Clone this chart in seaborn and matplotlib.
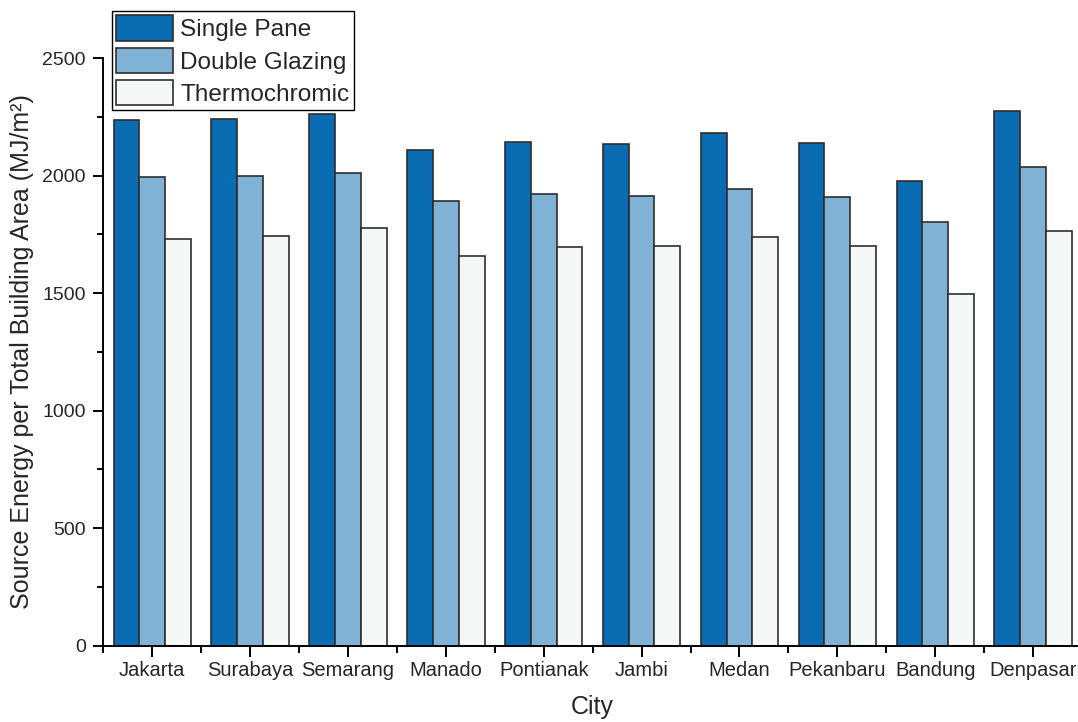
import numpy as np
import pandas as pd
import matplotlib
matplotlib.use("Agg")
import matplotlib.pyplot as plt
from matplotlib.ticker import FixedLocator, MultipleLocator
import seaborn as sns

# Source energy intensity (MJ/m²) by city for three glazing types
cities = ["Jakarta", "Surabaya", "Semarang", "Manado", "Pontianak",
          "Jambi", "Medan", "Pekanbaru", "Bandung", "Denpasar"]
single_pane = [2236, 2241, 2261, 2109, 2144, 2135, 2183, 2139, 1979, 2276]
double_glazing = [1993, 1997, 2013, 1891, 1923, 1915, 1945, 1911, 1803, 2037]
thermochromic = [1730, 1744, 1779, 1658, 1696, 1701, 1740, 1701, 1497, 1763]

glazing_types = ["Single Pane", "Double Glazing", "Thermochromic"]
bar_colors = ["#0A6DB4", "#7FB2D5", "#F3F8F6"]

df = pd.DataFrame({
    "City": cities * 3,
    "Energy": single_pane + double_glazing + thermochromic,
    "Glazing": np.repeat(glazing_types, len(cities)),
})

sns.set_style("ticks")
plt.rcParams["font.family"] = ["Liberation Sans", "DejaVu Sans"]

W, H = 1078, 722
fig = plt.figure(figsize=(W / 100, H / 100), dpi=100)
ax_l, ax_r, ax_t, ax_b = 103.3, 1082.0, 58.3, 645.5
ax = fig.add_axes([ax_l / W, (H - ax_b) / H, (ax_r - ax_l) / W, (ax_b - ax_t) / H])

sns.barplot(data=df, x="City", y="Energy", hue="Glazing",
            hue_order=glazing_types, order=cities,
            palette=bar_colors, width=0.79, edgecolor="#2E2E2E",
            linewidth=1.2, saturation=1, errorbar=None, ax=ax)

ax.set_xlim(-0.5, len(cities) - 0.5)
ax.set_ylim(0, 2500)
ax.yaxis.set_major_locator(MultipleLocator(500))
ax.yaxis.set_minor_locator(MultipleLocator(250))
ax.xaxis.set_minor_locator(FixedLocator(np.arange(-0.5, len(cities), 1.0)))

for side in ["top", "right"]:
    ax.spines[side].set_visible(False)
for side in ["left", "bottom"]:
    ax.spines[side].set_linewidth(1.4)
    ax.spines[side].set_color("black")

ax.tick_params(axis="both", which="both", direction="out", color="black", width=1.4)
ax.tick_params(axis="x", which="major", length=8, pad=3, labelsize=14.5)
ax.tick_params(axis="x", which="minor", length=5)
ax.tick_params(axis="y", which="major", length=7.5, pad=5, labelsize=14)
ax.tick_params(axis="y", which="minor", length=4)

ax.set_xlabel("City", fontsize=18, labelpad=11)
ax.set_ylabel("Source Energy per Total Building Area (MJ/m²)", fontsize=18, labelpad=6)

handles, labels = ax.get_legend_handles_labels()
if ax.get_legend() is not None:
    ax.get_legend().remove()
leg = fig.legend(handles, labels, loc="upper left",
                 bbox_to_anchor=(111.7 / W, 1 - 11 / H), bbox_transform=fig.transFigure,
                 borderaxespad=0, fontsize=17.6, frameon=True, fancybox=False,
                 handlelength=2.32, handleheight=1.22, handletextpad=0.31,
                 labelspacing=0.26, borderpad=0.18)
leg.get_frame().set_edgecolor("black")
leg.get_frame().set_linewidth(1.0)
leg.get_frame().set_alpha(1)

fig.savefig("out.png", dpi=100)
